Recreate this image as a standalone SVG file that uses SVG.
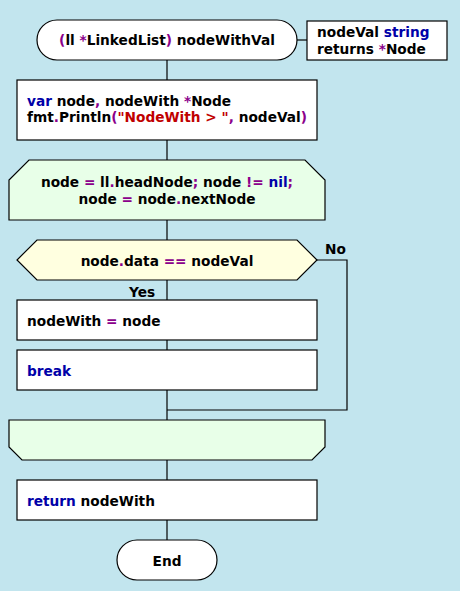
<svg xmlns="http://www.w3.org/2000/svg" width="460" height="591" viewBox="0 0 460 591">
  <style>
    .shape { stroke: #000; stroke-width: 1.2; }
    .box { fill: #fff; }
    .loop { fill: #E8FFE8; }
    .cond { fill: #FFFFE0; }
    .conn { fill: none; stroke: #000; stroke-width: 1.2; }
    text { font-family: "DejaVu Sans", Verdana, sans-serif; font-weight: bold; font-size: 13.7px; fill: #000; }
    .op { fill: #8B008B; }
    .kw { fill: #0000A8; }
    .str { fill: #C00000; }
    .mid { text-anchor: middle; }
  </style>
  <rect width="460" height="591" fill="#C2E5EE"/>

  <g id="connectors">
    <line class="conn" x1="297" y1="40" x2="307" y2="40"/>
    <line class="conn" x1="167" y1="60" x2="167" y2="80"/>
    <line class="conn" x1="167" y1="140" x2="167" y2="160"/>
    <line class="conn" x1="167" y1="220" x2="167" y2="240"/>
    <line class="conn" x1="167" y1="280" x2="167" y2="300"/>
    <line class="conn" x1="167" y1="340" x2="167" y2="350"/>
    <line class="conn" x1="167" y1="390" x2="167" y2="420"/>
    <polyline class="conn" points="317,260 347,260 347,410 167,410"/>
    <line class="conn" x1="167" y1="460" x2="167" y2="480"/>
    <line class="conn" x1="167" y1="520" x2="167" y2="540"/>
    <text x="325" y="254">No</text>
    <text x="129" y="297">Yes</text>
  </g>

  <g id="start">
    <rect class="shape box" x="37" y="20" width="260" height="40" rx="20" ry="20"/>
    <text class="mid" x="167" y="45"><tspan class="op">(</tspan>ll <tspan class="op">*</tspan>LinkedList<tspan class="op">)</tspan> nodeWithVal</text>
  </g>

  <g id="params">
    <rect class="shape box" x="307" y="21" width="140" height="39"/>
    <text x="317" y="37">nodeVal <tspan class="kw">string</tspan></text>
    <text x="317" y="54">returns <tspan class="op">*</tspan>Node</text>
  </g>

  <g id="decl">
    <rect class="shape box" x="17" y="80" width="300" height="60"/>
    <text x="27" y="106"><tspan class="kw">var</tspan> node<tspan class="op">,</tspan> nodeWith <tspan class="op">*</tspan>Node</text>
    <text x="27" y="122">fmt<tspan class="op">.</tspan>Println<tspan class="op">(</tspan><tspan class="str">"NodeWith &gt; "</tspan><tspan class="op">,</tspan> nodeVal<tspan class="op">)</tspan></text>
  </g>

  <g id="loop-start">
    <polygon class="shape loop" points="29,160 305,160 325,180 325,220 9,220 9,180"/>
    <text class="mid" x="167" y="187">node <tspan class="op">=</tspan> ll<tspan class="op">.</tspan>headNode<tspan class="op">;</tspan> node <tspan class="op">!=</tspan> <tspan class="kw">nil</tspan><tspan class="op">;</tspan></text>
    <text class="mid" x="167" y="204">node <tspan class="op">=</tspan> node<tspan class="op">.</tspan>nextNode</text>
  </g>

  <g id="check">
    <polygon class="shape cond" points="37,240 297,240 317,260 297,280 37,280 17,260"/>
    <text class="mid" x="167" y="266">node<tspan class="op">.</tspan>data <tspan class="op">==</tspan> nodeVal</text>
  </g>

  <g id="assign">
    <rect class="shape box" x="17" y="300" width="300" height="40"/>
    <text x="27" y="326">nodeWith <tspan class="op">=</tspan> node</text>
  </g>

  <g id="break">
    <rect class="shape box" x="17" y="350" width="300" height="40"/>
    <text x="27" y="376" class="kw">break</text>
  </g>

  <g id="loop-end">
    <polygon class="shape loop" points="9,420 325,420 325,447 312,460 22,460 9,447"/>
  </g>

  <g id="return">
    <rect class="shape box" x="17" y="480" width="300" height="40"/>
    <text x="27" y="506"><tspan class="kw">return</tspan> nodeWith</text>
  </g>

  <g id="end">
    <rect class="shape box" x="117" y="540" width="100" height="40" rx="20" ry="20"/>
    <text class="mid" x="167" y="566">End</text>
  </g>
</svg>
